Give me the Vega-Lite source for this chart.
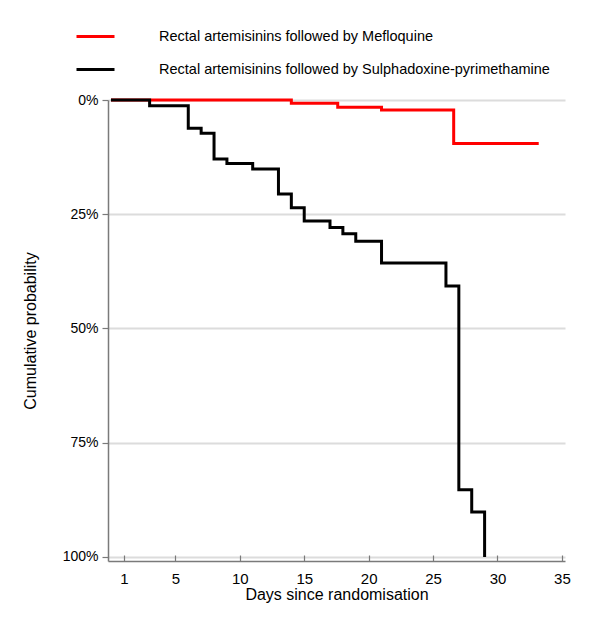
{
  "$schema": "https://vega.github.io/schema/vega-lite/v6.json",
  "width": 457,
  "height": 461,
  "autosize": {"type": "none"},
  "padding": {"left": 108, "top": 100, "right": 35, "bottom": 67},
  "background": "white",
  "data": {
    "values": [
      {"arm": "Rectal artemisinins followed by Mefloquine", "day": 0, "prob": 0},
      {"arm": "Rectal artemisinins followed by Mefloquine", "day": 14, "prob": 0.0073},
      {"arm": "Rectal artemisinins followed by Mefloquine", "day": 17.6, "prob": 0.016},
      {"arm": "Rectal artemisinins followed by Mefloquine", "day": 21, "prob": 0.022},
      {"arm": "Rectal artemisinins followed by Mefloquine", "day": 26.6, "prob": 0.095},
      {"arm": "Rectal artemisinins followed by Mefloquine", "day": 33.2, "prob": 0.095},
      {"arm": "Rectal artemisinins followed by Sulphadoxine-pyrimethamine", "day": 0, "prob": 0},
      {"arm": "Rectal artemisinins followed by Sulphadoxine-pyrimethamine", "day": 3, "prob": 0.0125},
      {"arm": "Rectal artemisinins followed by Sulphadoxine-pyrimethamine", "day": 6, "prob": 0.062},
      {"arm": "Rectal artemisinins followed by Sulphadoxine-pyrimethamine", "day": 7, "prob": 0.073},
      {"arm": "Rectal artemisinins followed by Sulphadoxine-pyrimethamine", "day": 8, "prob": 0.129},
      {"arm": "Rectal artemisinins followed by Sulphadoxine-pyrimethamine", "day": 9, "prob": 0.139},
      {"arm": "Rectal artemisinins followed by Sulphadoxine-pyrimethamine", "day": 11, "prob": 0.151},
      {"arm": "Rectal artemisinins followed by Sulphadoxine-pyrimethamine", "day": 13, "prob": 0.206},
      {"arm": "Rectal artemisinins followed by Sulphadoxine-pyrimethamine", "day": 14, "prob": 0.236},
      {"arm": "Rectal artemisinins followed by Sulphadoxine-pyrimethamine", "day": 15, "prob": 0.265},
      {"arm": "Rectal artemisinins followed by Sulphadoxine-pyrimethamine", "day": 17, "prob": 0.279},
      {"arm": "Rectal artemisinins followed by Sulphadoxine-pyrimethamine", "day": 18, "prob": 0.293},
      {"arm": "Rectal artemisinins followed by Sulphadoxine-pyrimethamine", "day": 19, "prob": 0.309},
      {"arm": "Rectal artemisinins followed by Sulphadoxine-pyrimethamine", "day": 21, "prob": 0.357},
      {"arm": "Rectal artemisinins followed by Sulphadoxine-pyrimethamine", "day": 26, "prob": 0.407},
      {"arm": "Rectal artemisinins followed by Sulphadoxine-pyrimethamine", "day": 27, "prob": 0.853},
      {"arm": "Rectal artemisinins followed by Sulphadoxine-pyrimethamine", "day": 28, "prob": 0.902},
      {"arm": "Rectal artemisinins followed by Sulphadoxine-pyrimethamine", "day": 29, "prob": 1.0}
    ]
  },
  "mark": {"type": "line", "interpolate": "step-after", "strokeWidth": 3, "clip": false},
  "encoding": {
    "x": {
      "field": "day",
      "type": "quantitative",
      "scale": {"domain": [-0.23, 35.24], "nice": false, "zero": false},
      "axis": {
        "values": [1, 5, 10, 15, 20, 25, 30, 35],
        "title": "Days since randomisation",
        "grid": false,
        "tickSize": -6,
        "labelFontSize": 15,
        "labelPadding": 16,
        "titlePadding": 0
      }
    },
    "y": {
      "field": "prob",
      "type": "quantitative",
      "scale": {"domain": [0, 1.009], "reverse": true, "nice": false, "zero": false},
      "axis": {
        "values": [0, 0.25, 0.5, 0.75, 1],
        "format": ".0%",
        "title": "Cumulative probability",
        "grid": true,
        "tickSize": 6,
        "labelPadding": 4,
        "titlePadding": 24
      }
    },
    "color": {
      "field": "arm",
      "type": "nominal",
      "scale": {
        "domain": ["Rectal artemisinins followed by Mefloquine", "Rectal artemisinins followed by Sulphadoxine-pyrimethamine"],
        "range": ["#ff0000", "#000000"]
      },
      "legend": {
        "title": null,
        "orient": "none",
        "legendX": -33,
        "legendY": -84,
        "symbolType": "stroke",
        "symbolSize": 1444,
        "symbolStrokeWidth": 3,
        "labelFontSize": 14.5,
        "labelOffset": 43,
        "labelLimit": 500,
        "rowPadding": 6,
        "labelColor": "#000000",
        "padding": 0
      }
    }
  },
  "config": {
    "view": {"stroke": null},
    "font": "Liberation Sans",
    "axis": {
      "domainColor": "#7a7a7a",
      "domainWidth": 1.5,
      "tickColor": "#7a7a7a",
      "tickWidth": 1.2,
      "gridColor": "#dcdcdc",
      "gridWidth": 2,
      "labelFontSize": 14,
      "labelColor": "#000000",
      "titleFontSize": 16,
      "titleFontWeight": "normal",
      "titleColor": "#000000"
    }
  }
}
